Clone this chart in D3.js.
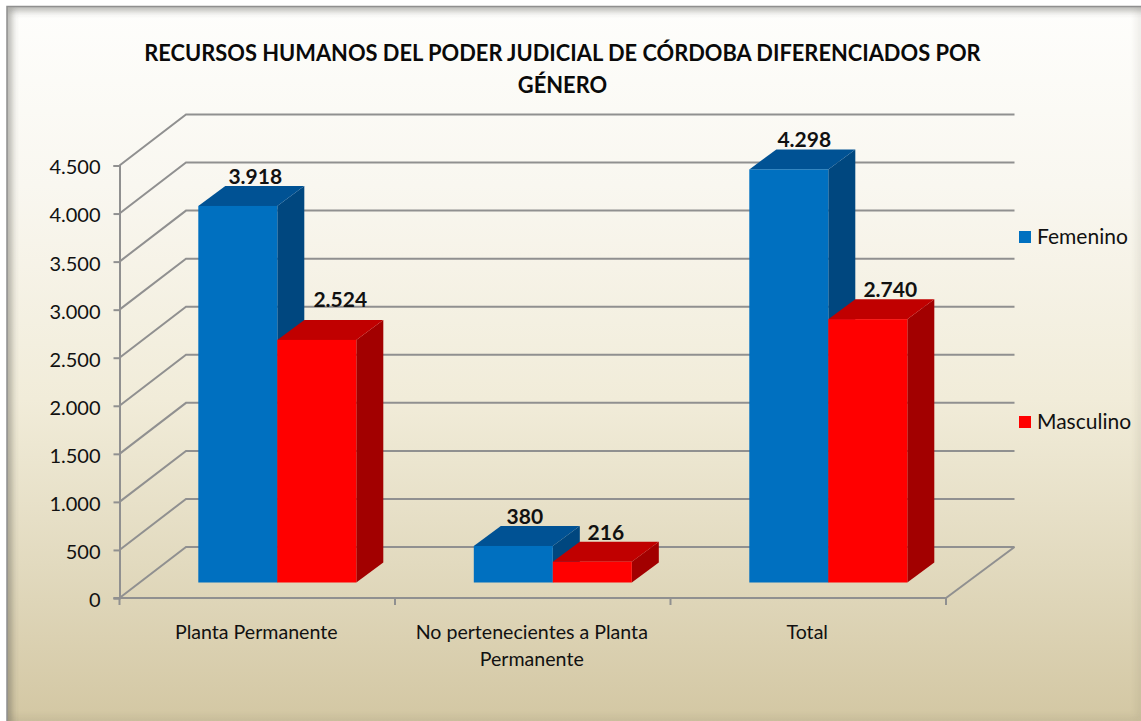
<!DOCTYPE html>
<html><head><meta charset="utf-8">
<script src="https://cdn.jsdelivr.net/npm/d3@7"></script>
<style>html,body{margin:0;padding:0;background:#fff}svg{display:block}text{font-family:Lato,"Open Sans",sans-serif;fill:#111}</style>
</head><body><div id="c"></div>
<script>
const categories=[["Planta Permanente"],["No pertenecientes a Planta","Permanente"],["Total"]];
const seriesNames=["Femenino","Masculino"];
const femenino=[3918,380,4298];
const masculino=[2524,216,2740];
const labelsF=["3.918","380","4.298"];
const labelsM=["2.524","216","2.740"];
const ticks=[0,500,1000,1500,2000,2500,3000,3500,4000,4500];
const tickLabels=["0","500","1.000","1.500","2.000","2.500","3.000","3.500","4.000","4.500"];
const titleLines=["RECURSOS HUMANOS DEL PODER JUDICIAL DE CÓRDOBA DIFERENCIADOS POR","GÉNERO"];

const W=1141,H=721;
const svg=d3.select("#c").append("svg").attr("width",W).attr("height",H);
const defs=svg.append("defs");
const g=defs.append("linearGradient").attr("id","bg").attr("x1",0).attr("x2",0).attr("y1",0).attr("y2",1);
[[0,"#fefefc"],[.25,"#f9f7f0"],[.55,"#f1ecd9"],[.78,"#e2dabf"],[1,"#d3c7a3"]].forEach(s=>g.append("stop").attr("offset",s[0]).attr("stop-color",s[1]));
const blur=defs.append("filter").attr("id","b").attr("x","-5%").attr("y","-5%").attr("width","110%").attr("height","110%");
blur.append("feGaussianBlur").attr("stdDeviation",4);
const clip=defs.append("clipPath").attr("id","fc");
clip.append("rect").attr("x",7).attr("y",6).attr("width",W-7).attr("height",H-6);

// frame
svg.append("rect").attr("x",7).attr("y",6).attr("width",W-7).attr("height",H-6).attr("fill","url(#bg)");
const fr=svg.append("g").attr("clip-path","url(#fc)");
fr.append("path").attr("fill","none").attr("stroke","#4a4a44").attr("stroke-width",5).attr("filter","url(#b)").attr("opacity",.8)
  .attr("d",`M7,${H+10}V6H${W+10}`);
fr.append("path").attr("fill","none").attr("stroke","#5a5648").attr("stroke-width",2).attr("filter","url(#b)").attr("opacity",.45)
  .attr("d",`M${W},6V${H}H7`);
svg.append("path").attr("fill","none").attr("stroke","#8f8f8f").attr("stroke-width",1.5).attr("d",`M7,${H}V6.5H${W}`);

// scales
const y=d3.scaleLinear().domain([0,4500]).range([598,165.5]);
const x=d3.scaleBand().domain(d3.range(categories.length)).range([119.5,946]);
const inner=d3.scaleBand().domain([0,1]).range([78.8,78.8+158]);
const BX=66.5,BY=-51,  dx=27,dy=-20, front=-15.5;
const axisC="#909090", axisW=2;

// walls
const gl=svg.append("g").attr("fill","none").attr("stroke",axisC).attr("stroke-width",axisW);
ticks.forEach(t=>{
  gl.append("path").attr("d",`M${x.range()[0]},${y(t)}L${x.range()[0]+BX},${y(t)+BY}H${x.range()[1]+BX+2}`);
});
gl.append("path").attr("d",`M${x.range()[1]},598L${x.range()[1]+BX+2},${y(0)+BY}`);

// y axis
const yAxis=d3.axisLeft(y).tickValues(ticks).tickFormat((d,i)=>tickLabels[i]).tickSize(6).tickPadding(13);
const ya=svg.append("g").attr("transform",`translate(${x.range()[0]},0)`).call(yAxis);
ya.selectAll("path,line").attr("stroke",axisC).attr("stroke-width",axisW);
ya.selectAll("text").attr("font-size",20).attr("dy","0.42em").style("fill","#111");

// x axis
const xa=svg.append("g").attr("transform","translate(0,598)");
xa.append("line").attr("x1",x.range()[0]-6).attr("x2",x.range()[1]).attr("stroke",axisC).attr("stroke-width",axisW);
[0,1,2].forEach(i=>xa.append("line").attr("x1",x(i)).attr("x2",x(i)).attr("y2",7).attr("stroke",axisC).attr("stroke-width",axisW));
xa.append("line").attr("x1",x.range()[1]).attr("x2",x.range()[1]).attr("y2",7).attr("stroke",axisC).attr("stroke-width",axisW);
categories.forEach((lines,i)=>{
  lines.forEach((l,j)=>svg.append("text").attr("x",x(i)+x.bandwidth()/2-1).attr("y",639+j*26.5).attr("text-anchor","middle").attr("font-size",19.6).text(l));
});

// bars
const cols=[{f:"#0070c0",t:"#005294",s:"#00477f"},{f:"#ff0000",t:"#c00000",s:"#a20000"}];
const series=[femenino,masculino], labels=[labelsF,labelsM];
const base=y(0)+front;
const H0=v=>y(v)-y(0);
const bars=svg.append("g");
categories.forEach((_,i)=>{
  [0,1].forEach(s=>{
    const v=series[s][i], x0=x(i)+inner(s), x1=x0+inner.bandwidth(), top=base+H0(v), c=cols[s];
    bars.append("path").attr("fill",c.s).attr("d",`M${x1},${base}L${x1+dx},${base+dy}V${top+dy}L${x1},${top}Z`);
    bars.append("path").attr("fill",c.t).attr("d",`M${x0},${top}L${x0+dx},${top+dy}H${x1+dx}L${x1},${top}Z`);
    bars.append("rect").attr("x",x0).attr("y",top).attr("width",x1-x0).attr("height",base-top).attr("fill",c.f);
  });
});
// label nudges relative to the bar's back top edge (series, category)
const nudgeX=[[17.5,11.5,15.5],[23.5,13.5,22.5]];
const nudgeY=[[-2,-2,-2],[-13,-2,-2]];
categories.forEach((_,i)=>{
  [0,1].forEach(s=>{
    const v=series[s][i], x0=x(i)+inner(s), top=base+H0(v);
    svg.append("text").attr("x",x0+inner.bandwidth()/2+nudgeX[s][i]).attr("y",top+dy+nudgeY[s][i]).attr("text-anchor","middle")
      .attr("font-size",21).attr("font-weight",700).text(labels[s][i]);
  });
});

// title
titleLines.forEach((l,i)=>svg.append("text").attr("x",562.5).attr("y",61+i*32).attr("text-anchor","middle")
  .attr("font-size",21.85).attr("font-weight",700).style("fill","#0a0a0a").text(l));

// legend
const ly=[237,422];
seriesNames.forEach((n,i)=>{
  svg.append("rect").attr("x",1019).attr("y",ly[i]-6).attr("width",12).attr("height",12).attr("fill",cols[i].f);
  svg.append("text").attr("x",1037).attr("y",ly[i]+6.5).attr("font-size",21).text(n);
});
</script></body></html>
